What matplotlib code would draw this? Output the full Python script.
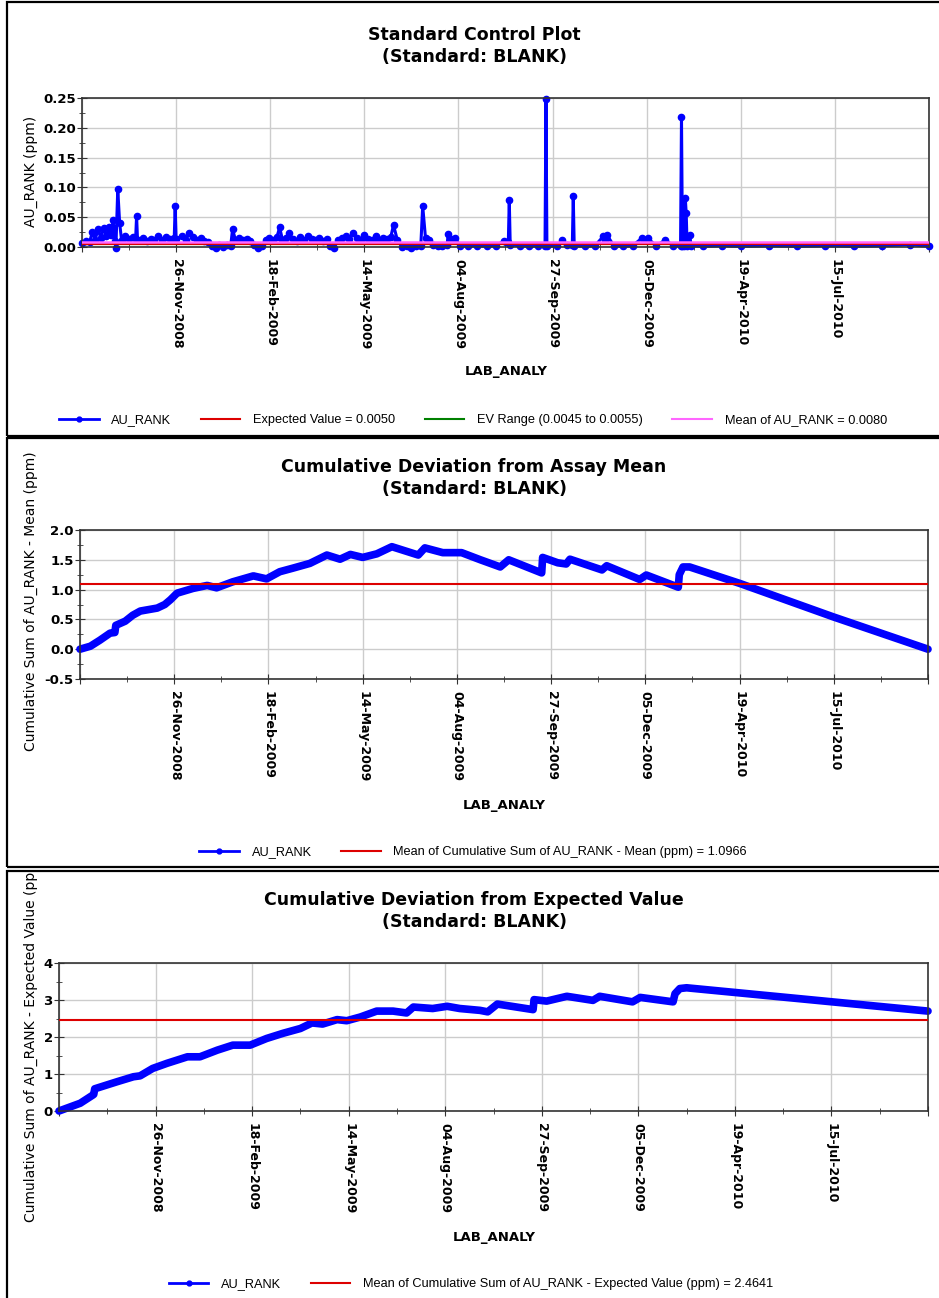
import matplotlib.pyplot as plt
from matplotlib.lines import Line2D
from matplotlib.patches import Rectangle
from matplotlib.transforms import Bbox, TransformedBbox

W, H = 939, 1298

date_ticks = [0, 100, 200, 300, 400, 500, 600, 700, 800, 900]
date_labels = ["", "26-Nov-2008", "18-Feb-2009", "14-May-2009", "04-Aug-2009",
               "27-Sep-2009", "05-Dec-2009", "19-Apr-2010", "15-Jul-2010", ""]

# sample index vs AU_RANK (ppm)
top_x = [0, 4, 8, 11, 14, 17, 20, 23, 26, 29,
         31, 33, 35, 36, 38, 40, 42, 46, 50, 54,
         57, 58, 59, 65, 69, 73, 77, 81, 85, 89,
         93, 98, 99, 100, 106, 110, 114, 118, 122, 126,
         130, 134, 138, 142, 146, 150, 154, 158, 160, 163,
         167, 171, 175, 179, 183, 187, 191, 195, 199, 203,
         207, 210, 213, 217, 220, 224, 228, 232, 236, 240,
         244, 248, 252, 256, 260, 264, 268, 272, 276, 280,
         284, 288, 292, 296, 300, 304, 308, 312, 316, 320,
         324, 328, 331, 335, 340, 345, 350, 355, 360, 362,
         365, 369, 373, 378, 383, 388, 389, 392, 396, 402,
         410, 420, 430, 440, 448, 451, 453, 454, 455, 465,
         475, 485, 492, 493, 494, 505, 510, 515, 521, 522,
         523, 535, 545, 554, 556, 558, 565, 575, 585, 595,
         598, 601, 610, 620, 628, 636, 637, 638, 640, 641,
         642, 643, 646, 647, 660, 680, 700, 730, 760, 790,
         820, 850, 880, 900]
top_au = [0.006, 0.010, 0.008, 0.025, 0.012, 0.030, 0.015, 0.032, 0.018, 0.033,
          0.020, 0.045, 0.010, -0.002, 0.097, 0.040, 0.012, 0.018, 0.013, 0.016,
          0.014, 0.052, 0.012, 0.015, 0.010, 0.014, 0.012, 0.018, 0.011, 0.016,
          0.013, 0.015, 0.068, 0.014, 0.018, 0.012, 0.024, 0.016, 0.012, 0.015,
          0.010, 0.008, 0.001, -0.002, 0.003, 0.000, 0.004, 0.002, 0.030, 0.012,
          0.015, 0.011, 0.014, 0.010, 0.003, -0.001, 0.002, 0.012, 0.015, 0.011,
          0.016, 0.033, 0.012, 0.015, 0.023, 0.013, 0.010, 0.016, 0.012, 0.018,
          0.014, 0.011, 0.015, 0.010, 0.013, 0.001, -0.001, 0.012, 0.015, 0.018,
          0.013, 0.024, 0.015, 0.012, 0.020, 0.014, 0.011, 0.018, 0.012, 0.015,
          0.013, 0.016, 0.037, 0.012, 0.000, 0.002, -0.001, 0.001, 0.002, 0.069,
          0.015, 0.012, 0.003, 0.001, 0.002, 0.003, 0.022, 0.014, 0.015, 0.002,
          0.001, 0.002, 0.001, 0.002, 0.010, 0.009, 0.008, 0.079, 0.004, 0.002,
          0.001, 0.002, 0.002, 0.248, 0.002, 0.001, 0.012, 0.003, 0.003, 0.085,
          0.002, 0.001, 0.002, 0.018, 0.012, 0.020, 0.002, 0.001, 0.002, 0.015,
          0.012, 0.015, 0.002, 0.012, 0.002, 0.002, 0.218, 0.002, 0.002, 0.083,
          0.057, 0.002, 0.020, 0.002, 0.001, 0.002, 0.001, 0.002, 0.001, 0.002,
          0.001, 0.002, 0.004, 0.001]
expected_value = 0.0050
ev_low, ev_high = 0.0045, 0.0055
au_mean = 0.0080

mean_x = [0, 11, 21, 32, 37, 38, 48, 56, 64, 82,
          90, 96, 103, 120, 135, 145, 162, 184, 198, 212,
          226, 244, 262, 276, 287, 300, 315, 331, 359, 366,
          385, 405, 425, 446, 455, 490, 491, 507, 516, 520,
          554, 559, 594, 601, 635, 636, 640, 647, 700, 799,
          900]
mean_cusum = [0.00, 0.05, 0.15, 0.27, 0.28, 0.40, 0.47, 0.57, 0.64, 0.69,
              0.75, 0.83, 0.94, 1.02, 1.07, 1.03, 1.13, 1.23, 1.18, 1.30,
              1.36, 1.44, 1.58, 1.51, 1.59, 1.54, 1.60, 1.72, 1.58, 1.70,
              1.62, 1.62, 1.50, 1.38, 1.50, 1.28, 1.54, 1.45, 1.43, 1.51,
              1.33, 1.40, 1.17, 1.245, 1.04, 1.25, 1.38, 1.38, 1.105, 0.545,
              0.00]
mean_cusum_avg = 1.0966

ev_x = [0, 22, 35, 36, 37, 60, 77, 84, 97, 112,
        133, 146, 164, 180, 198, 215, 232, 250, 262, 273,
        288, 298, 312, 329, 346, 360, 367, 387, 402, 415,
        436, 444, 454, 491, 492, 505, 526, 553, 560, 594,
        602, 636, 638, 643, 650, 900]
ev_cusum = [0.00, 0.21, 0.43, 0.45, 0.60, 0.79, 0.925, 0.95, 1.15, 1.29,
            1.465, 1.465, 1.645, 1.78, 1.78, 1.96, 2.10, 2.23, 2.38, 2.35,
            2.47, 2.44, 2.54, 2.70, 2.70, 2.65, 2.81, 2.77, 2.83, 2.77,
            2.72, 2.68, 2.89, 2.74, 3.01, 2.97, 3.10, 2.99, 3.10, 2.95,
            3.07, 2.95, 3.17, 3.31, 3.33, 2.70]
ev_cusum_avg = 2.4641

BLUE = "#0000ff"
RED = "#dd0000"
GREEN = "#008000"
PINK = "#ff66ff"
LEGEND_FONT = {"family": ["Liberation Sans Narrow", "Liberation Sans", "DejaVu Sans"], "size": 9.2}
LEGEND_KW = dict(loc="center", frameon=False, prop=LEGEND_FONT, handlelength=3.1,
                 handletextpad=1.0, columnspacing=2.3, numpoints=1)


def fx(px):
    return px / W


def fy(py):
    return 1 - py / H


def setup_axes(ax, yticks, yfmt, yminor):
    ax.set_xlim(0, 900)
    ax.set_xticks(date_ticks)
    ax.set_xticklabels(date_labels, rotation=270, fontsize=9, fontweight="bold",
                       ha="center", va="top")
    ax.set_xticks(range(50, 900, 100), minor=True)
    ax.set_ylim(yticks[0], yticks[-1])
    ax.set_yticks(yticks)
    ax.set_yticklabels([yfmt % v for v in yticks], fontsize=9.5, fontweight="bold")
    ax.set_yticks(yminor, minor=True)
    ax.grid(True, which="major", color="#cccccc", lw=1)
    ax.set_axisbelow(True)
    ax.tick_params(which="major", direction="inout", length=7, color="#333333")
    ax.tick_params(which="minor", direction="inout", length=5, color="#333333")
    ax.tick_params(axis="x", pad=5)
    ax.tick_params(axis="y", pad=1)
    for s in ax.spines.values():
        s.set_color("#333333")
        s.set_linewidth(1.2)


def panel_text(title_y, title, xlab_x, xlab_y, ylab_y, ylab):
    fig.text(fx(474), fy(title_y), title, ha="center", va="center",
             fontsize=12.5, fontweight="bold")
    fig.text(fx(474), fy(title_y + 22), "(Standard: BLANK)", ha="center", va="center",
             fontsize=12.5, fontweight="bold")
    fig.text(fx(xlab_x), fy(xlab_y), "LAB_ANALY", ha="center", va="center",
             fontsize=9.5, fontweight="bold")
    return fig.text(fx(31), fy(ylab_y), ylab, ha="center", va="center",
                    rotation=90, fontsize=10)


fig = plt.figure(figsize=(W / 100, H / 100), dpi=100)

# panel frames
for top, bottom in [(2, 436), (438, 867), (871, 1310)]:
    fig.add_artist(Rectangle((fx(7), fy(bottom)), 1.1, (bottom - top) / H,
                             transform=fig.transFigure, fill=False,
                             ec="black", lw=1.6))

# --- Standard Control Plot ---
ax1 = fig.add_axes([fx(82), fy(247), fx(929) - fx(82), fy(98) - fy(247)])
setup_axes(ax1, [0, 0.05, 0.10, 0.15, 0.20, 0.25], "%.2f",
           [0.025, 0.075, 0.125, 0.175, 0.225])
ax1.plot(top_x, top_au, color=BLUE, lw=2.2, marker="o", ms=4.5, clip_on=False, zorder=2)
ax1.axhline(ev_low, color=GREEN, lw=1.5, zorder=3)
ax1.axhline(ev_high, color=GREEN, lw=1.5, zorder=3)
ax1.axhline(expected_value, color=RED, lw=1.5, zorder=3)
ax1.axhline(au_mean, color=PINK, lw=1.8, zorder=3)
panel_text(35, "Standard Control Plot", 506, 372, 171, "AU_RANK (ppm)")
fig.legend(handles=[
    Line2D([], [], color=BLUE, lw=2, marker="o", ms=3.5, label="AU_RANK"),
    Line2D([], [], color=RED, lw=1.5, label="Expected Value = %.4f" % expected_value),
    Line2D([], [], color=GREEN, lw=1.5, label="EV Range (%.4f to %.4f)" % (ev_low, ev_high)),
    Line2D([], [], color=PINK, lw=1.5, label="Mean of AU_RANK = %.4f" % au_mean),
], bbox_to_anchor=(fx(473), fy(420)), ncol=4, **LEGEND_KW)

# --- Cumulative Deviation from Assay Mean ---
ax2 = fig.add_axes([fx(80), fy(679), fx(928) - fx(80), fy(530) - fy(679)])
setup_axes(ax2, [-0.5, 0.0, 0.5, 1.0, 1.5, 2.0], "%.1f",
           [-0.25, 0.25, 0.75, 1.25, 1.75])
ax2.plot(mean_x, mean_cusum, color=BLUE, lw=5.5, solid_joinstyle="round",
         solid_capstyle="round", clip_on=False, zorder=2)
ax2.axhline(mean_cusum_avg, color=RED, lw=1.5, zorder=3)
panel_text(467, "Cumulative Deviation from Assay Mean", 504, 805, 601,
           "Cumulative Sum of AU_RANK - Mean (ppm)")
fig.legend(handles=[
    Line2D([], [], color=BLUE, lw=2, marker="o", ms=3.5, label="AU_RANK"),
    Line2D([], [], color=RED, lw=1.5,
           label="Mean of Cumulative Sum of AU_RANK - Mean (ppm) = %.4f" % mean_cusum_avg),
], bbox_to_anchor=(fx(473), fy(852)), ncol=2, **LEGEND_KW)

# --- Cumulative Deviation from Expected Value ---
ax3 = fig.add_axes([fx(59), fy(1111), fx(928) - fx(59), fy(963) - fy(1111)])
setup_axes(ax3, [0, 1, 2, 3, 4], "%d", [0.5, 1.5, 2.5, 3.5])
ax3.plot(ev_x, ev_cusum, color=BLUE, lw=5.5, solid_joinstyle="round",
         solid_capstyle="round", clip_on=False, zorder=2)
ax3.axhline(ev_cusum_avg, color=RED, lw=1.5, zorder=3)
ylab3 = panel_text(900, "Cumulative Deviation from Expected Value", 494, 1237, 1037,
                   "Cumulative Sum of AU_RANK - Expected Value (ppm)")
ylab3.set_clip_box(TransformedBbox(Bbox([[0, 0], [1, fy(871)]]), fig.transFigure))
ylab3.set_clip_on(True)
fig.legend(handles=[
    Line2D([], [], color=BLUE, lw=2, marker="o", ms=3.5, label="AU_RANK"),
    Line2D([], [], color=RED, lw=1.5,
           label="Mean of Cumulative Sum of AU_RANK - Expected Value (ppm) = %.4f" % ev_cusum_avg),
], bbox_to_anchor=(fx(471), fy(1284)), ncol=2, **LEGEND_KW)

plt.savefig("out.png", dpi=100)
